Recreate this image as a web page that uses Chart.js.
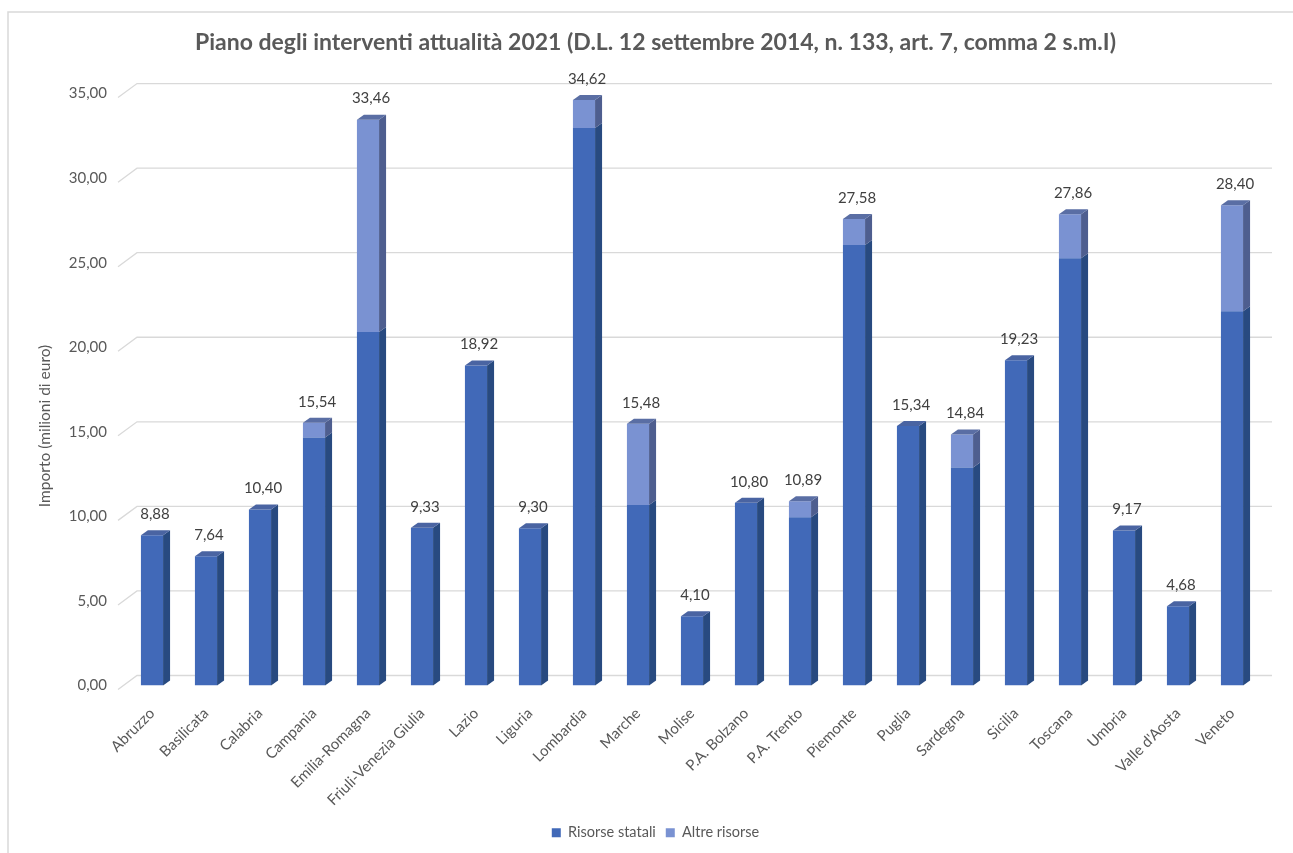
<!DOCTYPE html>
<html>
<head>
<meta charset="utf-8">
<script src="https://cdn.jsdelivr.net/npm/chart.js@4.4.1/dist/chart.umd.min.js"></script>
<style>
  html, body { margin: 0; padding: 0; background: #ffffff; }
  #wrap { position: absolute; left: 0; top: 0; width: 1293px; height: 853px; }
</style>
</head>
<body>
<div id="wrap"><canvas id="c" width="1293" height="853"></canvas></div>
<script>
const categories = ["Abruzzo", "Basilicata", "Calabria", "Campania", "Emilia-Romagna", "Friuli-Venezia Giulia", "Lazio", "Liguria", "Lombardia", "Marche", "Molise", "P.A. Bolzano", "P.A. Trento", "Piemonte", "Puglia", "Sardegna", "Sicilia", "Toscana", "Umbria", "Valle d'Aosta", "Veneto"];
const risorseStatali = [8.88, 7.64, 10.40, 14.66, 20.90, 9.33, 18.92, 9.30, 32.97, 10.68, 4.10, 10.80, 9.95, 26.05, 15.34, 12.89, 19.23, 25.26, 9.17, 4.68, 22.13];
const altreRisorse = [0, 0, 0, 0.88, 12.56, 0, 0, 0, 1.65, 4.80, 0, 0, 0.94, 1.53, 0, 1.95, 0, 2.60, 0, 0, 6.27];
const totali = [8.88, 7.64, 10.40, 15.54, 33.46, 9.33, 18.92, 9.30, 34.62, 15.48, 4.10, 10.80, 10.89, 27.58, 15.34, 14.84, 19.23, 27.86, 9.17, 4.68, 28.40];
const yTicks = [0, 5, 10, 15, 20, 25, 30, 35];

const FONT = "Lato, 'Open Sans', sans-serif";
const fmt = v => v.toFixed(2).replace('.', ',');

const faces = [
  { front: '#4169B8', side: '#284A80', top: '#4A64A2' },
  { front: '#7A92D2', side: '#4E5E8F', top: '#5A6EA4' }
];
const DX = 7, DY = 5;

const frame = {
  id: 'frame',
  beforeDraw(chart) {
    const ctx = chart.ctx;
    ctx.save();
    ctx.strokeStyle = '#d9d9d9';
    ctx.lineWidth = 1.5;
    ctx.beginPath();
    ctx.moveTo(8, 853);
    ctx.lineTo(8, 12);
    ctx.lineTo(1293, 12);
    ctx.stroke();
    ctx.restore();
  }
};

const grid3d = {
  id: 'grid3d',
  beforeDatasetsDraw(chart) {
    const ctx = chart.ctx, ys = chart.scales.y, a = chart.chartArea;
    ctx.save();
    ctx.strokeStyle = '#d9d9d9';
    ctx.lineWidth = 1.3;
    yTicks.forEach(v => {
      const y = ys.getPixelForValue(v);
      ctx.beginPath();
      ctx.moveTo(a.left - 7, y + 4);
      ctx.lineTo(a.left + 12, y - 10);
      ctx.lineTo(a.right + 13, y - 10);
      ctx.stroke();
    });
    ctx.restore();
  }
};

const bars3d = {
  id: 'bars3d',
  afterDatasetsDraw(chart) {
    const ctx = chart.ctx;
    const n = chart.data.labels.length;
    ctx.save();
    for (let i = 0; i < n; i++) {
      let topEl = null, topIdx = -1;
      chart.data.datasets.forEach((ds, d) => {
        if (!ds.data[i]) return;
        const el = chart.getDatasetMeta(d).data[i];
        const p = el.getProps(['x', 'y', 'base', 'width'], true);
        const x2 = p.x + p.width / 2;
        ctx.fillStyle = faces[d].side;
        ctx.beginPath();
        ctx.moveTo(x2, p.y);
        ctx.lineTo(x2 + DX, p.y - DY);
        ctx.lineTo(x2 + DX, p.base - DY);
        ctx.lineTo(x2, p.base);
        ctx.closePath();
        ctx.fill();
        topEl = p; topIdx = d;
      });
      if (topEl) {
        const x1 = topEl.x - topEl.width / 2, x2 = topEl.x + topEl.width / 2;
        ctx.fillStyle = faces[topIdx].top;
        ctx.beginPath();
        ctx.moveTo(x1, topEl.y);
        ctx.lineTo(x1 + DX, topEl.y - DY);
        ctx.lineTo(x2 + DX, topEl.y - DY);
        ctx.lineTo(x2, topEl.y);
        ctx.closePath();
        ctx.fill();
        ctx.fillStyle = '#404040';
        ctx.font = '15px ' + FONT;
        ctx.textAlign = 'center';
        ctx.textBaseline = 'middle';
        ctx.fillText(fmt(totali[i]), topEl.x + 3, topEl.y - 21);
      }
    }
    // y axis title
    ctx.translate(45, 426);
    ctx.rotate(-Math.PI / 2);
    ctx.fillStyle = '#595959';
    ctx.font = '15.5px ' + FONT;
    ctx.textAlign = 'center';
    ctx.textBaseline = 'middle';
    ctx.fillText('Importo (milioni di euro)', 0, 0);
    ctx.restore();
  }
};

new Chart(document.getElementById('c'), {
  type: 'bar',
  data: {
    labels: categories,
    datasets: [
      { label: 'Risorse statali', data: risorseStatali, backgroundColor: faces[0].front, barPercentage: 0.41, categoryPercentage: 1 },
      { label: 'Altre risorse', data: altreRisorse, backgroundColor: faces[1].front, barPercentage: 0.41, categoryPercentage: 1 }
    ]
  },
  options: {
    responsive: false,
    animation: false,
    layout: { padding: { left: 18, right: 0, top: 0, bottom: 3 } },
    plugins: {
      title: {
        display: true,
        text: 'Piano degli interventi attualità 2021 (D.L. 12 settembre 2014, n. 133, art. 7, comma 2 s.m.I)',
        color: '#595959',
        font: { family: FONT, size: 23, weight: 'bold' },
        padding: { top: 29, bottom: 37 }
      },
      legend: {
        position: 'bottom',
        labels: {
          color: '#595959',
          font: { family: FONT, size: 14.5 },
          boxWidth: 9, boxHeight: 9,
          padding: 10
        }
      },
      tooltip: { enabled: false }
    },
    scales: {
      x: {
        stacked: true,
        grid: { display: false },
        border: { display: false },
        ticks: {
          color: '#595959',
          font: { family: FONT, size: 15 },
          minRotation: 45, maxRotation: 45,
          padding: 11,
          autoSkip: false
        },
        afterFit(s) { s.height = 130; }
      },
      y: {
        stacked: true,
        min: 0, max: 35,
        grid: { display: false },
        border: { display: false },
        afterBuildTicks(s) { s.ticks = yTicks.map(v => ({ value: v })); },
        ticks: {
          color: '#595959',
          font: { family: FONT, size: 15 },
          padding: 10,
          callback: v => fmt(v)
        },
        afterFit(s) { s.width = 107; }
      },
      yRight: {
        position: 'right',
        display: true,
        grid: { display: false },
        border: { display: false },
        ticks: { display: false },
        afterFit(s) { s.width = 34; }
      }
    }
  },
  plugins: [frame, grid3d, bars3d]
});
</script>
</body>
</html>
